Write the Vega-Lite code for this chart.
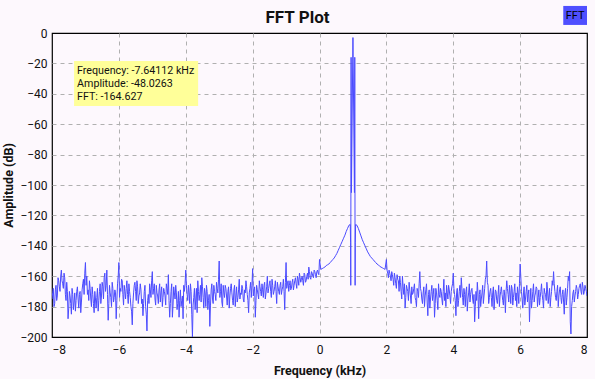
{
  "$schema": "https://vega.github.io/schema/vega-lite/v6.json",
  "width": 535,
  "height": 304,
  "autosize": {"type": "none"},
  "padding": {"left": 52, "top": 33, "right": 8, "bottom": 42},
  "background": "#fdf8fd",
  "title": {"text": "FFT Plot", "font": "Roboto", "fontSize": 17, "fontWeight": "bold", "color": "#111111", "anchor": "middle", "dx": -22, "dy": 40, "baseline": "alphabetic", "offset": 6},
  "config": {
    "view": {"stroke": "#000000", "strokeWidth": 1.2, "fill": "#fdf8fd"},
    "axis": {
      "grid": true, "gridDash": [4, 4], "gridColor": "#b0b0b0", "gridWidth": 1,
      "domain": false, "ticks": false, "labelOverlap": false,
      "labelFont": "Roboto", "labelFontSize": 12, "labelColor": "#111111",
      "titleFont": "Roboto", "titleFontSize": 12.5, "titleFontWeight": "bold", "titleColor": "#111111"
    }
  },
  "datasets": {
    "fft": [
      {"f":-8.00,"a":-175},{"f":-7.96,"a":-168},{"f":-7.92,"a":-178},{"f":-7.88,"a":-166},{"f":-7.84,"a":-173},
      {"f":-7.80,"a":-163},{"f":-7.76,"a":-170},{"f":-7.72,"a":-156},{"f":-7.68,"a":-165},{"f":-7.64,"a":-158},
      {"f":-7.60,"a":-172},{"f":-7.56,"a":-164},{"f":-7.52,"a":-188},{"f":-7.48,"a":-170},{"f":-7.44,"a":-178},
      {"f":-7.40,"a":-168},{"f":-7.36,"a":-182},{"f":-7.32,"a":-171},{"f":-7.28,"a":-176},{"f":-7.24,"a":-167},
      {"f":-7.20,"a":-181},{"f":-7.16,"a":-170},{"f":-7.12,"a":-177},{"f":-7.08,"a":-165},{"f":-7.04,"a":-172},
      {"f":-7.00,"a":-151},{"f":-6.96,"a":-160},{"f":-6.92,"a":-169},{"f":-6.88,"a":-163},{"f":-6.84,"a":-175},
      {"f":-6.80,"a":-167},{"f":-6.76,"a":-178},{"f":-6.72,"a":-170},{"f":-6.68,"a":-181},{"f":-6.64,"a":-168},
      {"f":-6.60,"a":-176},{"f":-6.56,"a":-165},{"f":-6.52,"a":-173},{"f":-6.48,"a":-167},{"f":-6.44,"a":-161},
      {"f":-6.40,"a":-170},{"f":-6.36,"a":-156},{"f":-6.32,"a":-189},{"f":-6.28,"a":-166},{"f":-6.24,"a":-174},
      {"f":-6.20,"a":-164},{"f":-6.16,"a":-177},{"f":-6.12,"a":-169},{"f":-6.08,"a":-188},{"f":-6.04,"a":-165},
      {"f":-6.00,"a":-151},{"f":-5.96,"a":-168},{"f":-5.92,"a":-162},{"f":-5.88,"a":-172},{"f":-5.84,"a":-166},
      {"f":-5.80,"a":-175},{"f":-5.76,"a":-163},{"f":-5.72,"a":-178},{"f":-5.68,"a":-170},{"f":-5.64,"a":-180},
      {"f":-5.60,"a":-192},{"f":-5.56,"a":-171},{"f":-5.52,"a":-164},{"f":-5.48,"a":-176},{"f":-5.44,"a":-167},
      {"f":-5.40,"a":-173},{"f":-5.36,"a":-165},{"f":-5.32,"a":-178},{"f":-5.28,"a":-186},{"f":-5.24,"a":-170},
      {"f":-5.20,"a":-180},{"f":-5.16,"a":-196},{"f":-5.12,"a":-172},{"f":-5.08,"a":-165},{"f":-5.04,"a":-174},
      {"f":-5.00,"a":-157},{"f":-4.96,"a":-168},{"f":-4.92,"a":-175},{"f":-4.88,"a":-166},{"f":-4.84,"a":-173},
      {"f":-4.80,"a":-169},{"f":-4.76,"a":-177},{"f":-4.72,"a":-167},{"f":-4.68,"a":-174},{"f":-4.64,"a":-170},
      {"f":-4.60,"a":-179},{"f":-4.56,"a":-168},{"f":-4.52,"a":-159},{"f":-4.48,"a":-187},{"f":-4.44,"a":-170},
      {"f":-4.40,"a":-187},{"f":-4.36,"a":-167},{"f":-4.32,"a":-175},{"f":-4.28,"a":-171},{"f":-4.24,"a":-178},
      {"f":-4.20,"a":-187},{"f":-4.16,"a":-169},{"f":-4.12,"a":-176},{"f":-4.08,"a":-188},{"f":-4.04,"a":-170},
      {"f":-4.00,"a":-156},{"f":-3.96,"a":-172},{"f":-3.92,"a":-166},{"f":-3.88,"a":-178},{"f":-3.84,"a":-170},
      {"f":-3.80,"a":-200},{"f":-3.76,"a":-174},{"f":-3.72,"a":-182},{"f":-3.68,"a":-168},{"f":-3.64,"a":-163},
      {"f":-3.60,"a":-176},{"f":-3.56,"a":-166},{"f":-3.52,"a":-161},{"f":-3.48,"a":-174},{"f":-3.44,"a":-168},
      {"f":-3.40,"a":-180},{"f":-3.36,"a":-170},{"f":-3.32,"a":-176},{"f":-3.28,"a":-193},{"f":-3.24,"a":-169},
      {"f":-3.20,"a":-175},{"f":-3.16,"a":-166},{"f":-3.12,"a":-172},{"f":-3.08,"a":-164},{"f":-3.04,"a":-171},
      {"f":-3.00,"a":-150},{"f":-2.96,"a":-170},{"f":-2.92,"a":-177},{"f":-2.88,"a":-166},{"f":-2.84,"a":-174},
      {"f":-2.80,"a":-168},{"f":-2.76,"a":-179},{"f":-2.72,"a":-167},{"f":-2.68,"a":-173},{"f":-2.64,"a":-165},
      {"f":-2.60,"a":-176},{"f":-2.56,"a":-169},{"f":-2.52,"a":-180},{"f":-2.48,"a":-167},{"f":-2.44,"a":-174},
      {"f":-2.40,"a":-162},{"f":-2.36,"a":-171},{"f":-2.32,"a":-166},{"f":-2.28,"a":-175},{"f":-2.24,"a":-169},
      {"f":-2.20,"a":-163},{"f":-2.16,"a":-172},{"f":-2.12,"a":-184},{"f":-2.08,"a":-168},{"f":-2.04,"a":-174},
      {"f":-2.00,"a":-155},{"f":-1.96,"a":-170},{"f":-1.92,"a":-187},{"f":-1.88,"a":-166},{"f":-1.84,"a":-172},
      {"f":-1.80,"a":-163},{"f":-1.76,"a":-170},{"f":-1.72,"a":-165},{"f":-1.68,"a":-174},{"f":-1.64,"a":-164},
      {"f":-1.60,"a":-171},{"f":-1.56,"a":-160},{"f":-1.52,"a":-168},{"f":-1.48,"a":-163},{"f":-1.44,"a":-174},
      {"f":-1.40,"a":-166},{"f":-1.36,"a":-170},{"f":-1.32,"a":-163},{"f":-1.28,"a":-178},{"f":-1.24,"a":-167},
      {"f":-1.20,"a":-172},{"f":-1.16,"a":-164},{"f":-1.12,"a":-169},{"f":-1.08,"a":-162},{"f":-1.04,"a":-182},
      {"f":-1.00,"a":-151},{"f":-0.96,"a":-165},{"f":-0.92,"a":-170},{"f":-0.88,"a":-163},{"f":-0.84,"a":-168},
      {"f":-0.80,"a":-162},{"f":-0.76,"a":-166},{"f":-0.72,"a":-161},{"f":-0.68,"a":-168},{"f":-0.64,"a":-162},
      {"f":-0.60,"a":-158},{"f":-0.56,"a":-164},{"f":-0.52,"a":-160},{"f":-0.48,"a":-166},{"f":-0.44,"a":-159},
      {"f":-0.40,"a":-163},{"f":-0.36,"a":-158},{"f":-0.32,"a":-154},{"f":-0.28,"a":-161},{"f":-0.24,"a":-157},
      {"f":-0.20,"a":-160},{"f":-0.16,"a":-156},{"f":-0.12,"a":-159},{"f":-0.08,"a":-157},{"f":-0.04,"a":-158},
      {"f":0.00,"a":-149},{"f":0.04,"a":-155.5},{"f":0.08,"a":-155},{"f":0.12,"a":-154.5},{"f":0.16,"a":-154},
      {"f":0.20,"a":-153},{"f":0.24,"a":-152.5},{"f":0.28,"a":-152},{"f":0.32,"a":-151},{"f":0.36,"a":-150},
      {"f":0.40,"a":-149},{"f":0.44,"a":-148},{"f":0.48,"a":-146.5},{"f":0.52,"a":-145},{"f":0.56,"a":-143},
      {"f":0.60,"a":-141},{"f":0.64,"a":-139},{"f":0.68,"a":-137},{"f":0.72,"a":-135},{"f":0.76,"a":-133},
      {"f":0.80,"a":-130.5},{"f":0.84,"a":-128.5},{"f":0.88,"a":-126.5},{"f":0.92,"a":-126},{"f":0.93,"a":-138},
      {"f":0.935,"a":-166},{"f":0.945,"a":-16},{"f":0.955,"a":-105},{"f":1.00,"a":-3},{"f":1.045,"a":-105},
      {"f":1.055,"a":-16},{"f":1.065,"a":-166},{"f":1.07,"a":-138},{"f":1.08,"a":-126},{"f":1.12,"a":-126.5},
      {"f":1.16,"a":-128.5},{"f":1.20,"a":-131},{"f":1.24,"a":-133.5},{"f":1.28,"a":-136},{"f":1.32,"a":-138},
      {"f":1.36,"a":-140},{"f":1.40,"a":-142},{"f":1.44,"a":-144},{"f":1.48,"a":-145.5},{"f":1.52,"a":-147},
      {"f":1.56,"a":-148},{"f":1.60,"a":-149},{"f":1.64,"a":-150},{"f":1.68,"a":-151},{"f":1.72,"a":-152},
      {"f":1.76,"a":-152.5},{"f":1.80,"a":-153.5},{"f":1.84,"a":-154},{"f":1.88,"a":-154.5},{"f":1.92,"a":-155},
      {"f":1.96,"a":-155.5},{"f":2.00,"a":-149},{"f":2.04,"a":-158},{"f":2.08,"a":-156},{"f":2.12,"a":-160},
      {"f":2.16,"a":-157},{"f":2.20,"a":-162},{"f":2.24,"a":-158},{"f":2.28,"a":-165},{"f":2.32,"a":-159},
      {"f":2.36,"a":-163},{"f":2.40,"a":-160},{"f":2.44,"a":-170},{"f":2.48,"a":-160},{"f":2.52,"a":-172},
      {"f":2.56,"a":-181},{"f":2.60,"a":-166},{"f":2.64,"a":-170},{"f":2.68,"a":-164},{"f":2.72,"a":-173},
      {"f":2.76,"a":-167},{"f":2.80,"a":-171},{"f":2.84,"a":-165},{"f":2.88,"a":-176},{"f":2.92,"a":-168},
      {"f":2.96,"a":-174},{"f":3.00,"a":-157},{"f":3.04,"a":-170},{"f":3.08,"a":-178},{"f":3.12,"a":-167},
      {"f":3.16,"a":-173},{"f":3.20,"a":-165},{"f":3.24,"a":-186},{"f":3.28,"a":-169},{"f":3.32,"a":-175},
      {"f":3.36,"a":-166},{"f":3.40,"a":-172},{"f":3.44,"a":-187},{"f":3.48,"a":-168},{"f":3.52,"a":-176},
      {"f":3.56,"a":-165},{"f":3.60,"a":-174},{"f":3.64,"a":-170},{"f":3.68,"a":-179},{"f":3.72,"a":-162},
      {"f":3.76,"a":-171},{"f":3.80,"a":-166},{"f":3.84,"a":-175},{"f":3.88,"a":-169},{"f":3.92,"a":-178},
      {"f":3.96,"a":-167},{"f":4.00,"a":-158},{"f":4.04,"a":-172},{"f":4.08,"a":-186},{"f":4.12,"a":-168},
      {"f":4.16,"a":-176},{"f":4.20,"a":-166},{"f":4.24,"a":-161},{"f":4.28,"a":-174},{"f":4.32,"a":-168},
      {"f":4.36,"a":-180},{"f":4.40,"a":-167},{"f":4.44,"a":-175},{"f":4.48,"a":-165},{"f":4.52,"a":-172},
      {"f":4.56,"a":-168},{"f":4.60,"a":-178},{"f":4.64,"a":-190},{"f":4.68,"a":-170},{"f":4.72,"a":-164},
      {"f":4.76,"a":-188},{"f":4.80,"a":-169},{"f":4.84,"a":-175},{"f":4.88,"a":-166},{"f":4.92,"a":-173},
      {"f":4.96,"a":-162},{"f":5.00,"a":-150},{"f":5.04,"a":-166},{"f":5.08,"a":-174},{"f":5.12,"a":-168},
      {"f":5.16,"a":-180},{"f":5.20,"a":-167},{"f":5.24,"a":-175},{"f":5.28,"a":-170},{"f":5.32,"a":-178},
      {"f":5.36,"a":-166},{"f":5.40,"a":-173},{"f":5.44,"a":-167},{"f":5.48,"a":-176},{"f":5.52,"a":-169},
      {"f":5.56,"a":-184},{"f":5.60,"a":-163},{"f":5.64,"a":-172},{"f":5.68,"a":-166},{"f":5.72,"a":-178},
      {"f":5.76,"a":-168},{"f":5.80,"a":-174},{"f":5.84,"a":-165},{"f":5.88,"a":-171},{"f":5.92,"a":-167},
      {"f":5.96,"a":-178},{"f":6.00,"a":-152},{"f":6.04,"a":-170},{"f":6.08,"a":-181},{"f":6.12,"a":-167},
      {"f":6.16,"a":-175},{"f":6.20,"a":-166},{"f":6.24,"a":-172},{"f":6.28,"a":-190},{"f":6.32,"a":-168},
      {"f":6.36,"a":-176},{"f":6.40,"a":-165},{"f":6.44,"a":-173},{"f":6.48,"a":-167},{"f":6.52,"a":-180},
      {"f":6.56,"a":-169},{"f":6.60,"a":-174},{"f":6.64,"a":-165},{"f":6.68,"a":-176},{"f":6.72,"a":-168},
      {"f":6.76,"a":-172},{"f":6.80,"a":-164},{"f":6.84,"a":-178},{"f":6.88,"a":-168},{"f":6.92,"a":-174},
      {"f":6.96,"a":-163},{"f":7.00,"a":-157},{"f":7.04,"a":-170},{"f":7.08,"a":-176},{"f":7.12,"a":-166},
      {"f":7.16,"a":-173},{"f":7.20,"a":-167},{"f":7.24,"a":-178},{"f":7.28,"a":-169},{"f":7.32,"a":-185},
      {"f":7.36,"a":-168},{"f":7.40,"a":-174},{"f":7.44,"a":-160},{"f":7.48,"a":-157},{"f":7.52,"a":-198},
      {"f":7.56,"a":-176},{"f":7.60,"a":-169},{"f":7.64,"a":-173},{"f":7.68,"a":-166},{"f":7.72,"a":-175},
      {"f":7.76,"a":-168},{"f":7.80,"a":-165},{"f":7.84,"a":-172},{"f":7.88,"a":-167},{"f":7.92,"a":-170},
      {"f":7.96,"a":-168},{"f":8.00,"a":-173},
      {"f":-7.98,"a":-171},{"f":-7.94,"a":-180},{"f":-7.90,"a":-169},{"f":-7.86,"a":-176},{"f":-7.82,"a":-161},
      {"f":-7.78,"a":-167},{"f":-7.74,"a":-160},{"f":-7.70,"a":-163},{"f":-7.66,"a":-168},{"f":-7.62,"a":-161},
      {"f":-7.58,"a":-176},{"f":-7.54,"a":-170},{"f":-7.50,"a":-181},{"f":-7.46,"a":-173},{"f":-7.42,"a":-185},
      {"f":-7.38,"a":-172},{"f":-7.34,"a":-177},{"f":-7.30,"a":-183},{"f":-7.26,"a":-170},{"f":-7.22,"a":-175},
      {"f":-7.18,"a":-172},{"f":-7.14,"a":-184},{"f":-7.10,"a":-169},{"f":-7.06,"a":-162},{"f":-7.02,"a":-158},
      {"f":-6.98,"a":-166},{"f":-6.94,"a":-172},{"f":-6.90,"a":-176},{"f":-6.86,"a":-168},{"f":-6.82,"a":-180},
      {"f":-6.78,"a":-172},{"f":-6.74,"a":-184},{"f":-6.70,"a":-175},{"f":-6.66,"a":-174},{"f":-6.62,"a":-183},
      {"f":-6.58,"a":-170},{"f":-6.54,"a":-178},{"f":-6.50,"a":-164},{"f":-6.46,"a":-175},{"f":-6.42,"a":-158},
      {"f":-6.38,"a":-166},{"f":-6.34,"a":-172},{"f":-6.30,"a":-178},{"f":-6.26,"a":-171},{"f":-6.22,"a":-180},
      {"f":-6.18,"a":-168},{"f":-6.14,"a":-174},{"f":-6.10,"a":-171},{"f":-6.06,"a":-176},{"f":-6.02,"a":-160},
      {"f":-5.98,"a":-174},{"f":-5.94,"a":-170},{"f":-5.90,"a":-163},{"f":-5.86,"a":-179},{"f":-5.82,"a":-170},
      {"f":-5.78,"a":-168},{"f":-5.74,"a":-172},{"f":-5.70,"a":-165},{"f":-5.66,"a":-174},{"f":-5.62,"a":-183},
      {"f":-5.58,"a":-178},{"f":-5.54,"a":-166},{"f":-5.50,"a":-170},{"f":-5.46,"a":-163},{"f":-5.42,"a":-178},
      {"f":-5.38,"a":-171},{"f":-5.34,"a":-169},{"f":-5.30,"a":-175},{"f":-5.26,"a":-178},{"f":-5.22,"a":-166},
      {"f":-5.18,"a":-185},{"f":-5.14,"a":-176},{"f":-5.10,"a":-178},{"f":-5.06,"a":-169},{"f":-5.02,"a":-163},
      {"f":-4.98,"a":-172},{"f":-4.94,"a":-165},{"f":-4.90,"a":-179},{"f":-4.86,"a":-171},{"f":-4.82,"a":-178},
      {"f":-4.78,"a":-165},{"f":-4.74,"a":-171},{"f":-4.70,"a":-180},{"f":-4.66,"a":-168},{"f":-4.62,"a":-173},
      {"f":-4.58,"a":-165},{"f":-4.54,"a":-172},{"f":-4.50,"a":-176},{"f":-4.46,"a":-178},{"f":-4.42,"a":-165},
      {"f":-4.38,"a":-179},{"f":-4.34,"a":-171},{"f":-4.30,"a":-166},{"f":-4.26,"a":-182},{"f":-4.22,"a":-170},
      {"f":-4.18,"a":-176},{"f":-4.14,"a":-180},{"f":-4.10,"a":-173},{"f":-4.06,"a":-166},{"f":-4.02,"a":-165},
      {"f":-3.98,"a":-166},{"f":-3.94,"a":-176},{"f":-3.90,"a":-171},{"f":-3.86,"a":-165},{"f":-3.82,"a":-185},
      {"f":-3.78,"a":-179},{"f":-3.74,"a":-168},{"f":-3.70,"a":-175},{"f":-3.66,"a":-184},{"f":-3.62,"a":-170},
      {"f":-3.58,"a":-172},{"f":-3.54,"a":-177},{"f":-3.50,"a":-167},{"f":-3.46,"a":-181},{"f":-3.42,"a":-171},
      {"f":-3.38,"a":-166},{"f":-3.34,"a":-182},{"f":-3.30,"a":-172},{"f":-3.26,"a":-179},{"f":-3.22,"a":-165},
      {"f":-3.18,"a":-178},{"f":-3.14,"a":-170},{"f":-3.10,"a":-176},{"f":-3.06,"a":-168},{"f":-3.02,"a":-162},
      {"f":-2.98,"a":-174},{"f":-2.94,"a":-165},{"f":-2.90,"a":-180},{"f":-2.86,"a":-171},{"f":-2.82,"a":-166},
      {"f":-2.78,"a":-173},{"f":-2.74,"a":-170},{"f":-2.70,"a":-181},{"f":-2.66,"a":-168},{"f":-2.62,"a":-171},
      {"f":-2.58,"a":-179},{"f":-2.54,"a":-166},{"f":-2.50,"a":-173},{"f":-2.46,"a":-177},{"f":-2.42,"a":-169},
      {"f":-2.38,"a":-175},{"f":-2.34,"a":-172},{"f":-2.30,"a":-168},{"f":-2.26,"a":-177},{"f":-2.22,"a":-171},
      {"f":-2.18,"a":-167},{"f":-2.14,"a":-176},{"f":-2.10,"a":-171},{"f":-2.06,"a":-164},{"f":-2.02,"a":-166},
      {"f":-1.98,"a":-173},{"f":-1.94,"a":-167},{"f":-1.90,"a":-176},{"f":-1.86,"a":-169},{"f":-1.82,"a":-175},
      {"f":-1.78,"a":-167},{"f":-1.74,"a":-173},{"f":-1.70,"a":-169},{"f":-1.66,"a":-166},{"f":-1.62,"a":-175},
      {"f":-1.58,"a":-167},{"f":-1.54,"a":-171},{"f":-1.50,"a":-165},{"f":-1.46,"a":-170},{"f":-1.42,"a":-162},
      {"f":-1.38,"a":-172},{"f":-1.34,"a":-167},{"f":-1.30,"a":-170},{"f":-1.26,"a":-164},{"f":-1.22,"a":-170},
      {"f":-1.18,"a":-166},{"f":-1.14,"a":-172},{"f":-1.10,"a":-167},{"f":-1.06,"a":-170},{"f":-1.02,"a":-164},
      {"f":-0.98,"a":-168},{"f":-0.94,"a":-163},{"f":-0.90,"a":-166},{"f":-0.86,"a":-169},{"f":-0.82,"a":-164},
      {"f":-0.78,"a":-169},{"f":-0.74,"a":-163},{"f":-0.70,"a":-165},{"f":-0.66,"a":-160},{"f":-0.62,"a":-166},
      {"f":-0.58,"a":-161},{"f":-0.54,"a":-162},{"f":-0.50,"a":-163},{"f":-0.46,"a":-158},{"f":-0.42,"a":-164},
      {"f":-0.38,"a":-160},{"f":-0.34,"a":-162},{"f":-0.30,"a":-157},{"f":-0.26,"a":-162},{"f":-0.22,"a":-158},
      {"f":-0.18,"a":-161},{"f":-0.14,"a":-157},{"f":-0.10,"a":-161},{"f":-0.06,"a":-156},{"f":-0.02,"a":-159},
      {"f":2.02,"a":-156},{"f":2.06,"a":-161},{"f":2.10,"a":-158},{"f":2.14,"a":-163},{"f":2.18,"a":-159},
      {"f":2.22,"a":-166},{"f":2.26,"a":-161},{"f":2.30,"a":-168},{"f":2.34,"a":-162},{"f":2.38,"a":-170},
      {"f":2.42,"a":-164},{"f":2.46,"a":-175},{"f":2.50,"a":-167},{"f":2.54,"a":-165},{"f":2.58,"a":-174},
      {"f":2.62,"a":-168},{"f":2.66,"a":-176},{"f":2.70,"a":-169},{"f":2.74,"a":-178},{"f":2.78,"a":-172},
      {"f":2.82,"a":-168},{"f":2.86,"a":-174},{"f":2.90,"a":-180},{"f":2.94,"a":-170},{"f":2.98,"a":-165},
      {"f":3.02,"a":-168},{"f":3.06,"a":-175},{"f":3.10,"a":-171},{"f":3.14,"a":-180},{"f":3.18,"a":-169},
      {"f":3.22,"a":-177},{"f":3.26,"a":-172},{"f":3.30,"a":-181},{"f":3.34,"a":-170},{"f":3.38,"a":-176},
      {"f":3.42,"a":-168},{"f":3.46,"a":-178},{"f":3.50,"a":-171},{"f":3.54,"a":-182},{"f":3.58,"a":-172},
      {"f":3.62,"a":-168},{"f":3.66,"a":-175},{"f":3.70,"a":-170},{"f":3.74,"a":-176},{"f":3.78,"a":-180},
      {"f":3.82,"a":-171},{"f":3.86,"a":-166},{"f":3.90,"a":-173},{"f":3.94,"a":-170},{"f":3.98,"a":-165},
      {"f":4.02,"a":-168},{"f":4.06,"a":-176},{"f":4.10,"a":-171},{"f":4.14,"a":-180},{"f":4.18,"a":-170},
      {"f":4.22,"a":-174},{"f":4.26,"a":-168},{"f":4.30,"a":-179},{"f":4.34,"a":-172},{"f":4.38,"a":-170},
      {"f":4.42,"a":-183},{"f":4.46,"a":-171},{"f":4.50,"a":-177},{"f":4.54,"a":-169},{"f":4.58,"a":-175},
      {"f":4.62,"a":-172},{"f":4.66,"a":-180},{"f":4.70,"a":-176},{"f":4.74,"a":-171},{"f":4.78,"a":-172},
      {"f":4.82,"a":-180},{"f":4.86,"a":-171},{"f":4.90,"a":-178},{"f":4.94,"a":-168},{"f":4.98,"a":-160},
      {"f":5.02,"a":-164},{"f":5.06,"a":-178},{"f":5.10,"a":-170},{"f":5.14,"a":-174},{"f":5.18,"a":-171},
      {"f":5.22,"a":-182},{"f":5.26,"a":-169},{"f":5.30,"a":-176},{"f":5.34,"a":-172},{"f":5.38,"a":-180},
      {"f":5.42,"a":-170},{"f":5.46,"a":-172},{"f":5.50,"a":-179},{"f":5.54,"a":-173},{"f":5.58,"a":-170},
      {"f":5.62,"a":-168},{"f":5.66,"a":-177},{"f":5.70,"a":-171},{"f":5.74,"a":-166},{"f":5.78,"a":-179},
      {"f":5.82,"a":-170},{"f":5.86,"a":-176},{"f":5.90,"a":-180},{"f":5.94,"a":-171},{"f":5.98,"a":-165},
      {"f":6.02,"a":-160},{"f":6.06,"a":-175},{"f":6.10,"a":-171},{"f":6.14,"a":-179},{"f":6.18,"a":-170},
      {"f":6.22,"a":-177},{"f":6.26,"a":-169},{"f":6.30,"a":-176},{"f":6.34,"a":-181},{"f":6.38,"a":-170},
      {"f":6.42,"a":-177},{"f":6.46,"a":-171},{"f":6.50,"a":-168},{"f":6.54,"a":-174},{"f":6.58,"a":-179},
      {"f":6.62,"a":-170},{"f":6.66,"a":-172},{"f":6.70,"a":-181},{"f":6.74,"a":-171},{"f":6.78,"a":-176},
      {"f":6.82,"a":-169},{"f":6.86,"a":-173},{"f":6.90,"a":-180},{"f":6.94,"a":-170},{"f":6.98,"a":-166},
      {"f":7.02,"a":-165},{"f":7.06,"a":-174},{"f":7.10,"a":-170},{"f":7.14,"a":-180},{"f":7.18,"a":-169},
      {"f":7.22,"a":-174},{"f":7.26,"a":-172},{"f":7.30,"a":-177},{"f":7.34,"a":-171},{"f":7.38,"a":-179},
      {"f":7.42,"a":-168},{"f":7.46,"a":-163},{"f":7.50,"a":-190},{"f":7.54,"a":-180},{"f":7.58,"a":-171},
      {"f":7.62,"a":-177},{"f":7.66,"a":-170},{"f":7.70,"a":-168},{"f":7.74,"a":-172},{"f":7.78,"a":-166},
      {"f":7.82,"a":-170},{"f":7.86,"a":-164},{"f":7.90,"a":-172},{"f":7.94,"a":-166},{"f":7.98,"a":-170}
    ],
    "info": [
      {"series": "FFT"}
    ]
  },
  "layer": [
    {
      "data": {"name": "fft"},
      "mark": {"type": "line", "color": "#4b4bff", "strokeWidth": 1, "clip": true},
      "encoding": {
        "x": {"field": "f", "type": "quantitative", "scale": {"domain": [-8, 8], "nice": false, "zero": false},
              "axis": {"values": [-8, -6, -4, -2, 0, 2, 4, 6, 8], "title": "Frequency (kHz)", "labelPadding": 7, "titlePadding": 9, "labelOverlap": false,
                       "gridOpacity": {"condition": {"test": "datum.value == -8 || datum.value == 8", "value": 0}, "value": 1}}},
        "y": {"field": "a", "type": "quantitative", "scale": {"domain": [-200, 0], "nice": false, "zero": false},
              "axis": {"values": [-200, -180, -160, -140, -120, -100, -80, -60, -40, -20, 0], "title": "Amplitude (dB)", "labelPadding": 5, "titlePadding": 4,
                       "labelOverlap": false, "labelBound": false, "labelFlush": false, "tickCount": 11,
                       "gridOpacity": {"condition": {"test": "datum.value == 0 || datum.value == -200", "value": 0}, "value": 1}}}
      }
    },
    {
      "data": {"name": "info"},
      "mark": {"type": "rect", "fill": "#ffff99"},
      "encoding": {
        "x": {"datum": -7.34, "type": "quantitative"},
        "x2": {"datum": -3.63},
        "y": {"datum": -18.4, "type": "quantitative"},
        "y2": {"datum": -48.0}
      }
    },
    {
      "data": {"name": "info"},
      "mark": {"type": "text", "align": "left", "baseline": "top", "font": "Roboto", "fontSize": 10.7, "lineHeight": 13.3, "color": "#111111"},
      "encoding": {
        "x": {"datum": -7.25, "type": "quantitative"},
        "y": {"datum": -21.6, "type": "quantitative"},
        "text": {"value": ["Frequency: -7.64112 kHz", "Amplitude: -48.0263", "FFT: -164.627"]}
      }
    },
    {
      "data": {"name": "info"},
      "mark": {"type": "rect", "fill": "#4f4fff"},
      "encoding": {
        "x": {"datum": 7.29, "type": "quantitative"},
        "x2": {"datum": 8.0},
        "y": {"datum": 17.8, "type": "quantitative"},
        "y2": {"datum": 5.3}
      }
    },
    {
      "data": {"name": "info"},
      "mark": {"type": "text", "align": "center", "baseline": "middle", "font": "Roboto", "fontSize": 11, "color": "#000000"},
      "encoding": {
        "x": {"datum": 7.645, "type": "quantitative"},
        "y": {"datum": 11.5, "type": "quantitative"},
        "text": {"field": "series"}
      }
    }
  ]
}
